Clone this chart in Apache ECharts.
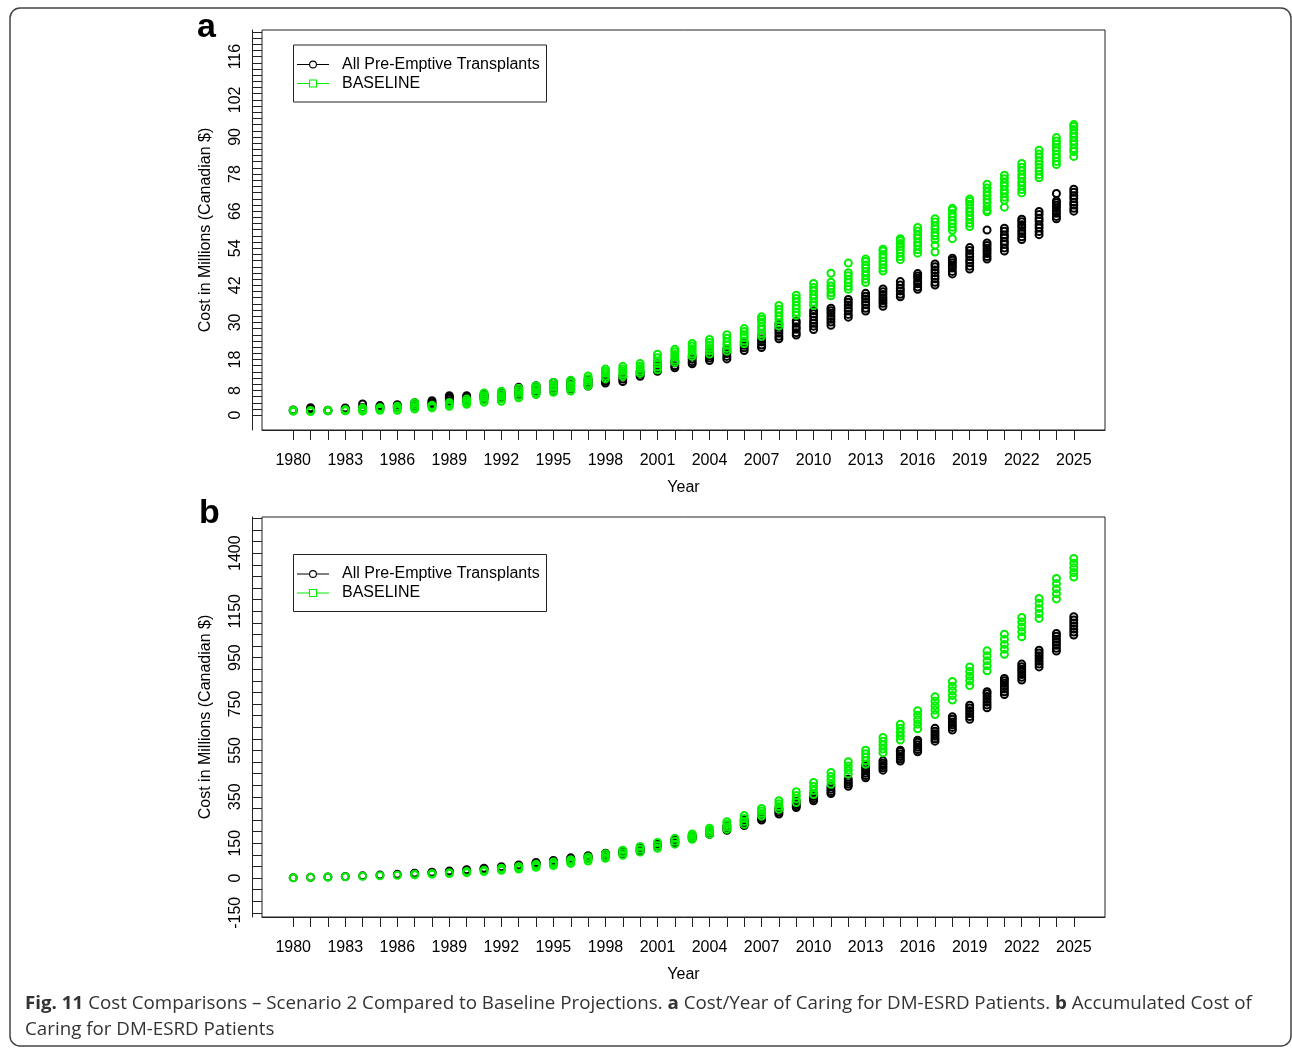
<!DOCTYPE html>
<html>
<head>
<meta charset="utf-8">
<script src="https://cdn.jsdelivr.net/npm/echarts@6.0.0/dist/echarts.min.js"></script>
<style>
html, body { margin: 0; padding: 0; background: #fff; }
#main { width: 1292px; height: 1048px; }
</style>
</head>
<body>
<div id="main"></div>
<script>
//Fig. 11 - scenario 2 vs baseline, a: cost/year, b: accumulated cost

var years = [1980, 1981, 1982, 1983, 1984, 1985, 1986, 1987, 1988, 1989,
    1990, 1991, 1992, 1993, 1994, 1995, 1996, 1997, 1998, 1999,
    2000, 2001, 2002, 2003, 2004, 2005, 2006, 2007, 2008, 2009,
    2010, 2011, 2012, 2013, 2014, 2015, 2016, 2017, 2018, 2019,
    2020, 2021, 2022, 2023, 2024, 2025];
var yearLabels = [1980, 1983, 1986, 1989, 1992, 1995, 1998, 2001, 2004, 2007, 2010, 2013, 2016, 2019, 2022, 2025];
var yLabelsA = [0, 8, 18, 30, 42, 54, 66, 78, 90, 102, 116];
var yLabelsB = [-150, 0, 150, 350, 550, 750, 950, 1150, 1400];

// a: All Pre-Emptive Transplants, one list of runs per year
var preA = [
    [1.4, 1.7], [1.5, 1.9, 2.4], [1.4, 1.6], [1.6, 2.0, 2.3], [2.0, 2.5, 3.6],
    [2.2, 2.6, 3.1], [2.4, 2.9, 3.4], [2.8, 3.3, 4.0], [3.2, 3.7, 4.2, 4.7], [4.2, 4.7, 5.3, 5.8, 6.3],
    [4.6, 5.1, 5.7, 6.3], [5.2, 5.8, 6.3, 6.8], [5.6, 6.3, 7.1], [6.6, 7.3, 8.1, 9.0], [7.2, 7.9, 8.8, 9.5],
    [8.0, 8.8, 9.7, 10.6], [8.5, 9.4, 10.3, 11.1], [9.4, 10.1, 10.9, 11.6], [10.4, 11.0, 11.6], [10.9, 11.7, 12.6],
    [12.6, 13.3, 14.1], [14.2, 15.0, 15.9, 16.6], [15.3, 16.0, 16.9, 17.6], [16.6, 17.3, 18.1, 18.9], [17.7, 18.5, 19.2, 20.0],
    [18.2, 19.0, 19.9, 20.7, 21.4], [20.9, 21.8, 22.6, 23.5], [21.9, 22.7, 23.7, 24.6, 25.6],
    [24.7, 25.5, 26.5, 27.5, 28.4, 29.4], [25.9, 26.7, 27.8, 28.6, 29.7, 30.5],
    [27.7, 28.8, 29.7, 30.7, 31.9, 32.8, 33.8], [29.1, 30.1, 31.0, 31.9, 33.0, 33.8, 34.6],
    [31.7, 32.6, 33.7, 34.6, 35.6, 36.5, 37.4], [33.7, 34.6, 35.7, 36.6, 37.6, 38.5, 39.4],
    [35.2, 36.2, 37.1, 38.0, 39.0, 39.9, 40.8], [38.3, 39.1, 40.2, 41.0, 42.1, 43.2],
    [40.7, 41.5, 42.5, 43.3, 44.3, 45.0, 45.8], [42.1, 43.0, 44.1, 45.0, 46.1, 47.0, 48.0, 48.9],
    [45.7, 46.5, 47.6, 48.4, 49.3, 50.1, 50.8], [47.3, 48.2, 49.3, 50.2, 51.3, 52.2, 53.3, 54.2],
    [50.5, 51.3, 52.3, 53.2, 54.0, 54.9, 55.7, 59.9], [53.1, 54.1, 55.3, 56.2, 57.4, 58.3, 59.5, 60.5],
    [56.8, 57.7, 58.8, 59.7, 60.8, 61.6, 62.6, 63.4], [58.4, 59.4, 60.6, 61.6, 62.8, 63.7, 64.9, 65.9],
    [63.5, 64.3, 65.3, 66.1, 67.1, 67.9, 68.7, 69.3, 71.7], [66.0, 66.9, 68.0, 68.9, 70.1, 71.0, 72.1, 73.1]
];

// a: BASELINE
var baseA = [
    [1.3, 1.6], [1.2, 1.5], [1.4, 1.6], [1.4, 1.8], [1.3, 1.8, 2.3],
    [1.6, 2.0, 2.5], [1.6, 2.2, 2.9], [2.0, 2.6, 3.3, 4.0], [2.4, 2.8, 3.2], [2.9, 3.5, 4.1],
    [3.5, 4.0, 4.6, 5.2], [4.2, 4.9, 5.7, 6.4, 7.2], [4.5, 5.3, 6.1, 6.9, 7.7], [5.6, 6.3, 7.2, 7.9, 8.7], [6.7, 7.3, 8.1, 8.8, 9.5],
    [7.4, 8.1, 9.0, 9.7, 10.6], [7.8, 8.7, 9.5, 10.5, 11.3], [9.4, 10.1, 11.0, 11.8, 12.7], [11.8, 12.6, 13.5, 14.2, 14.9], [12.6, 13.3, 14.2, 14.9, 15.8],
    [13.5, 14.2, 15.1, 15.8, 16.7], [14.7, 15.6, 16.6, 17.5, 18.6, 19.7], [17.0, 17.8, 18.8, 19.6, 20.5, 21.3],
    [19.0, 19.8, 20.7, 21.5, 22.4, 23.2], [19.8, 20.8, 21.6, 22.6, 23.5, 24.5], [20.7, 21.6, 22.7, 23.7, 24.9, 26.0],
    [23.1, 24.0, 25.1, 26.0, 27.1, 28.0], [25.5, 26.5, 27.7, 28.8, 30.1, 31.0, 31.8],
    [28.8, 29.8, 31.0, 32.1, 33.3, 34.3, 35.5], [32.3, 33.3, 34.5, 35.5, 36.7, 37.7, 38.8],
    [35.5, 36.5, 37.8, 38.9, 40.2, 41.3, 42.6], [38.6, 39.6, 40.8, 41.8, 43.0, 45.9],
    [40.7, 41.7, 42.9, 43.9, 45.1, 46.1, 49.2], [42.9, 44.0, 45.3, 46.4, 47.6, 48.6, 49.7, 50.5],
    [46.6, 47.6, 48.8, 49.8, 51.0, 52.0, 53.1, 53.7], [50.3, 51.3, 52.5, 53.5, 54.6, 55.5, 56.5, 57.1],
    [52.4, 53.5, 54.8, 55.9, 57.2, 58.3, 59.6, 60.7], [52.8, 55.0, 56.8, 58.0, 59.0, 60.2, 61.2, 62.5, 63.5],
    [57.1, 59.8, 60.8, 62.0, 63.0, 64.2, 65.2, 66.4, 66.9], [61.0, 62.1, 63.4, 64.5, 65.8, 66.9, 68.2, 69.2, 69.9],
    [65.8, 66.3, 67.4, 68.7, 69.8, 71.1, 72.2, 73.5, 74.7], [67.3, 69.5, 70.5, 71.8, 72.8, 74.1, 75.2, 76.5, 77.6],
    [71.9, 73.0, 74.3, 75.4, 76.7, 77.8, 79.1, 80.2, 81.4], [76.8, 77.8, 79.0, 80.0, 81.2, 82.2, 83.4, 84.5, 85.7],
    [81.1, 82.1, 83.3, 84.3, 85.5, 86.5, 87.7, 88.7, 89.8], [83.7, 85.3, 86.3, 87.6, 88.7, 90.0, 91.1, 92.4, 93.4, 94.0]
];

// b: All Pre-Emptive Transplants, accumulated
var preB = [
    [1.5], [3.2], [4.8], [6.7], [9.5],
    [12.5], [15.8], [19.5, 21], [23, 25], [28, 30],
    [33, 36], [39, 42], [45, 49], [52, 56], [59, 64, 67],
    [67, 72, 76], [76, 82, 87], [85, 91, 96], [94, 101, 107], [104, 111, 118],
    [114, 122, 130], [138, 143, 148], [153, 159, 165], [170, 177, 184], [188, 195, 203],
    [206, 214, 223], [226, 234, 243, 250], [250, 258, 266, 274], [276, 284, 292, 301], [304, 312, 320, 330],
    [333, 342, 351, 361], [364, 373, 383, 393], [395, 405, 415, 426], [432, 442, 452, 463, 474, 484], [465, 475, 485, 495, 505],
    [504, 514, 524, 535, 545, 551], [544, 554, 564, 574, 585, 594], [590, 600, 611, 622, 633, 645],
    [638, 649, 660, 672, 684, 695], [684, 696, 709, 721, 733, 745],
    [734, 746, 758, 770, 782, 794, 803], [791, 803, 815, 827, 839, 850, 860],
    [853, 865, 877, 889, 900, 911, 922], [910, 922, 934, 946, 958, 970, 982],
    [978, 990, 1003, 1016, 1029, 1042, 1054], [1047, 1060, 1073, 1086, 1099, 1112, 1126]
];

// b: BASELINE, accumulated
var baseB = [
    [1.5], [2.8], [4.3], [5.9], [7.7],
    [9.7], [12], [14, 16], [16.5, 19], [19.5, 23],
    [23, 28], [28, 34], [33, 38, 42], [39, 45, 50], [46, 53, 59],
    [54, 62, 69], [63, 71, 79], [73, 82, 91], [85, 95, 105], [98, 109, 120],
    [112, 124, 136], [128, 140, 153], [146, 158, 171], [167, 175, 183, 190], [188, 197, 206, 215],
    [210, 221, 232, 243], [231, 244, 257, 269], [267, 278, 289, 300], [296, 308, 320, 333], [325, 341, 356, 372],
    [360, 377, 394, 412], [404, 421, 438, 455], [447, 465, 483, 501], [490, 505, 520, 536, 551], [540, 556, 573, 590, 606],
    [595, 612, 629, 646, 663], [643, 663, 682, 702, 721], [705, 724, 743, 762, 781],
    [767, 787, 807, 827, 847], [830, 850, 870, 890, 910],
    [893, 915, 936, 958, 979], [964, 986, 1007, 1029, 1051],
    [1040, 1061, 1082, 1103, 1123], [1119, 1140, 1162, 1184, 1205],
    [1203, 1225, 1247, 1269, 1291], [1297, 1317, 1337, 1357, 1377]
];

var FONT = '"Liberation Sans", Arial, Helvetica, sans-serif';
var GREEN = '#00f000';

var yTicksA = [];
for (var t = 0; t <= 124; t += 2) yTicksA.push(t);
var yTicksB = [];
for (var t = -150; t <= 1550; t += 50) yTicksB.push(t);

function plain(v) {
    return String(v);
}

function toPoints(runs) {
    var pts = [];
    years.forEach(function (yr, i) {
        runs[i].forEach(function (v) { pts.push([yr, v]); });
    });
    return pts;
}

function makeXAxis(idx) {
    return {
        type: 'value',
        gridIndex: idx,
        min: 1978.2,
        max: 2026.8,
        name: 'Year',
        nameLocation: 'middle',
        nameGap: 50,
        nameTextStyle: { fontFamily: FONT, fontSize: 16, color: '#000' },
        splitLine: { show: false },
        axisLine: { show: true, onZero: false, lineStyle: { color: '#222', width: 1 } },
        axisTick: { show: true, length: 10, customValues: years, lineStyle: { color: '#222', width: 1 } },
        axisLabel: { customValues: yearLabels, formatter: plain, margin: 23, fontFamily: FONT, fontSize: 16, color: '#000' }
    };
}

function makeYAxis(idx, min, max, ticks, labels) {
    return {
        type: 'value',
        gridIndex: idx,
        min: min,
        max: max,
        offset: 10,
        name: 'Cost in Millions (Canadian $)',
        nameLocation: 'middle',
        nameGap: 38,
        nameRotate: 90,
        nameTextStyle: { fontFamily: FONT, fontSize: 16, color: '#000' },
        splitLine: { show: false },
        axisLine: { show: true, onZero: false, lineStyle: { color: '#222', width: 1 } },
        axisTick: { show: true, inside: true, length: 10, customValues: ticks, lineStyle: { color: '#222', width: 1 } },
        axisLabel: { customValues: labels, formatter: plain, rotate: 90, margin: 8, fontFamily: FONT, fontSize: 16, color: '#000' }
    };
}

function makeSeries(name, runs, idx, color) {
    return {
        name: name,
        type: 'scatter',
        xAxisIndex: idx,
        yAxisIndex: idx,
        symbol: 'circle',
        symbolSize: 7,
        itemStyle: { color: 'rgba(0,0,0,0)', borderColor: color, borderWidth: 2, opacity: 1 },
        emphasis: { disabled: true },
        data: toPoints(runs)
    };
}

function legendBox(top) {
    return [
        { type: 'rect', shape: { x: 293.5, y: top, width: 253, height: 57 }, style: { fill: 'none', stroke: '#222', lineWidth: 1 } },
        { type: 'line', shape: { x1: 297, y1: top + 19.5, x2: 329, y2: top + 19.5 }, style: { stroke: '#000', lineWidth: 1 } },
        { type: 'circle', shape: { cx: 313, cy: top + 19.5, r: 3.4 }, style: { fill: '#fff', stroke: '#000', lineWidth: 1.1 } },
        { type: 'text', x: 342, y: top + 19.5, style: { text: 'All Pre-Emptive Transplants', font: '16px ' + FONT, fill: '#000', verticalAlign: 'middle' } },
        { type: 'line', shape: { x1: 297, y1: top + 38.5, x2: 329, y2: top + 38.5 }, style: { stroke: GREEN, lineWidth: 1 } },
        { type: 'rect', shape: { x: 309.5, y: top + 35, width: 7, height: 7 }, style: { fill: '#fff', stroke: GREEN, lineWidth: 1.1 } },
        { type: 'text', x: 342, y: top + 38.5, style: { text: 'BASELINE', font: '16px ' + FONT, fill: '#000', verticalAlign: 'middle' } }
    ];
}

var cap1 = 'Fig. 11 Cost Comparisons \u2013 Scenario 2 Compared to Baseline Projections. a Cost/Year of Caring for DM-ESRD Patients. b Accumulated Cost of';
var capFont = '18.5px "Open Sans"';
var ctx = document.createElement('canvas').getContext('2d');
ctx.font = capFont;
var capScale = 1223 / ctx.measureText(cap1).width;
var capRich = { b: { fontFamily: '"Open Sans"', fontSize: 18.5, fontWeight: 'bold', fill: '#333' } };

var chart = echarts.init(document.getElementById('main'));
var option = {
    animation: false,
    backgroundColor: '#fff',
    grid: [
        { left: 262, top: 30, width: 843, height: 400, show: true, borderColor: '#222', borderWidth: 1, backgroundColor: 'transparent' },
        { left: 262, top: 517, width: 843, height: 400, show: true, borderColor: '#222', borderWidth: 1, backgroundColor: 'transparent' }
    ],
    xAxis: [makeXAxis(0), makeXAxis(1)],
    yAxis: [
        makeYAxis(0, -4.8, 124.6, yTicksA, yLabelsA),
        makeYAxis(1, -168, 1556, yTicksB, yLabelsB)
    ],
    series: [
        makeSeries('All Pre-Emptive Transplants', preA, 0, '#000'),
        makeSeries('BASELINE', baseA, 0, GREEN),
        makeSeries('All Pre-Emptive Transplants', preB, 1, '#000'),
        makeSeries('BASELINE', baseB, 1, GREEN)
    ],
    graphic: [
        { type: 'rect', shape: { x: 10, y: 8, width: 1281, height: 1038, r: 10 }, style: { fill: 'none', stroke: '#444', lineWidth: 1.5 }, silent: true },
        { type: 'text', x: 197, y: 45, style: { text: 'a', font: 'bold 34px ' + FONT, fill: '#000', verticalAlign: 'bottom' } },
        { type: 'text', x: 199, y: 531, style: { text: 'b', font: 'bold 34px ' + FONT, fill: '#000', verticalAlign: 'bottom' } },
        { type: 'text', x: 25, y: 1004, scaleX: capScale, style: { text: '{b|Fig. 11} Cost Comparisons \u2013 Scenario 2 Compared to Baseline Projections. {b|a} Cost/Year of Caring for DM-ESRD Patients. {b|b} Accumulated Cost of', font: capFont, fill: '#333', verticalAlign: 'middle', rich: capRich } },
        { type: 'text', x: 25, y: 1030, scaleX: capScale, style: { text: 'Caring for DM-ESRD Patients', font: capFont, fill: '#333', verticalAlign: 'middle' } }
    ].concat(legendBox(45)).concat(legendBox(554.5))
};
chart.setOption(option);
</script>
</body>
</html>
